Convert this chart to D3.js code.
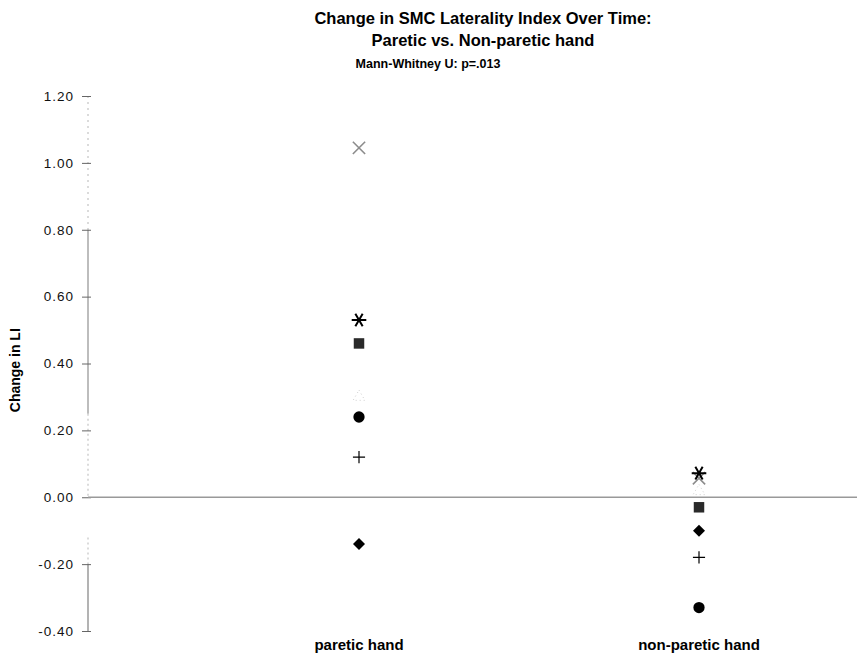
<!DOCTYPE html>
<html>
<head>
<meta charset="utf-8">
<script src="https://cdn.jsdelivr.net/npm/d3@7/dist/d3.min.js"></script>
<style>
	body { margin: 0; background: #fff; }
	svg { display: block; font-family: 'Liberation Sans', Arial, Helvetica, sans-serif; }
	.tick-label { font-size: 13.5px; letter-spacing: 1px; fill: #111; }
	.bold { font-weight: bold; fill: #000; }
</style>
</head>
<body>
<svg id="chart"></svg>
<script>
'use strict'

// Data
let groups = ['paretic hand', 'non-paretic hand'],
	subjects = ['circle', 'diamond', 'square', 'triangle', 'cross', 'asterisk', 'plus'],
	paretic = [0.24, -0.14, 0.46, 0.30, 1.045, 0.53, 0.12],
	non_paretic = [-0.33, -0.10, -0.03, 0.018, 0.057, 0.072, -0.18],
	y_ticks = [1.20, 1.00, 0.80, 0.60, 0.40, 0.20, 0.00, -0.20, -0.40]

let W = 857, H = 654,
	x = d3.scalePoint().domain(groups).range([359, 699]),
	y = d3.scaleLinear().domain([-0.40, 1.20]).range([631, 96]),
	ax_x = 88

let svg = d3.select('#chart').attr('width', W).attr('height', H)

// titles (the two title lines sit right of the subtitle, as in the source)
svg.append('text').attr('class', 'bold').attr('x', 483).attr('y', 24)
	.attr('text-anchor', 'middle').style('font-size', '16.5px')
	.text('Change in SMC Laterality Index Over Time:')
svg.append('text').attr('class', 'bold').attr('x', 483).attr('y', 46)
	.attr('text-anchor', 'middle').style('font-size', '16.5px')
	.text('Paretic vs. Non-paretic hand')
svg.append('text').attr('class', 'bold').attr('x', 428).attr('y', 68)
	.attr('text-anchor', 'middle').style('font-size', '12.5px')
	.text('Mann-Whitney U: p=.013')

// y axis line: solid and faint (scanned) stretches
let seg = (a, b, c, dash) => svg.append('line')
	.attr('x1', ax_x).attr('x2', ax_x).attr('y1', y(a)).attr('y2', y(b))
	.attr('stroke', c).attr('stroke-width', 1.3).attr('stroke-dasharray', dash || null)
seg(1.20, 0.80, '#c8c8c8', '2,4')
seg(0.80, 0.25, '#9a9a9a')
seg(0.25, 0.00, '#c8c8c8', '2,3')
seg(-0.12, -0.20, '#c8c8c8', '2,3')
seg(-0.20, -0.40, '#8a8a8a')

svg.append('g').attr('transform', `translate(${ax_x} 0)`)
	.call(d3.axisLeft(y).tickValues(y_ticks).tickFormat(d => d3.format('.2f')(d).replace('−', '-'))
		.tickSize(6).tickPadding(8))
	.attr('font-size', null).attr('font-family', null)
	.call(g => g.select('.domain').remove())
	.call(g => g.selectAll('.tick line').attr('x2', 3).attr('x1', -6).attr('stroke', '#666'))
	.call(g => g.selectAll('.tick text').attr('class', 'tick-label'))

// zero line
svg.append('line').attr('x1', ax_x).attr('x2', W).attr('y1', y(0)).attr('y2', y(0))
	.attr('stroke', '#999').attr('stroke-width', 1.3)

// axis labels
svg.append('text').attr('class', 'bold').style('font-size', '14px')
	.attr('transform', `translate(20 ${y(0.38)}) rotate(-90)`)
	.attr('text-anchor', 'middle').text('Change in LI')
svg.selectAll('.xlab').data(groups).join('text')
	.attr('class', 'bold xlab').style('font-size', '15px')
	.attr('x', d => x(d)).attr('y', 650).attr('text-anchor', 'middle').text(d => d)

// markers
let marker = {
	circle: {type: d3.symbolCircle, size: 100, fill: '#000', stroke: 'none'},
	diamond: {type: d3.symbolSquare, size: 72, fill: '#000', stroke: 'none', rot: 45},
	square: {type: d3.symbolSquare, size: 110, fill: '#2a2a2a', stroke: 'none'},
	triangle: {type: d3.symbolTriangle, size: 60, fill: 'none', stroke: '#cfcfcf', dash: '1,3'},
	cross: {type: d3.symbolTimes, size: 100, fill: 'none', stroke: '#8c8c8c', sw: 1.6},
	asterisk: {type: d3.symbolAsterisk, size: 150, fill: 'none', stroke: '#000', sw: 2, rot: 90},
	plus: {type: d3.symbolPlus, size: 50, fill: 'none', stroke: '#000', sw: 1.2}
}

let points = groups.flatMap((g, gi) =>
	(gi ? non_paretic : paretic).map((v, i) => ({group: g, subject: subjects[i], v: v})))

svg.append('g').selectAll('path').data(points).join('path')
	.attr('transform', d => `translate(${x(d.group)} ${y(d.v)}) rotate(${marker[d.subject].rot || 0})`)
	.attr('d', d => d3.symbol().type(marker[d.subject].type).size(marker[d.subject].size)())
	.attr('fill', d => marker[d.subject].fill)
	.attr('stroke', d => marker[d.subject].stroke)
	.attr('stroke-width', d => marker[d.subject].sw || 1)
	.attr('stroke-dasharray', d => marker[d.subject].dash || null)
</script>
</body>
</html>
